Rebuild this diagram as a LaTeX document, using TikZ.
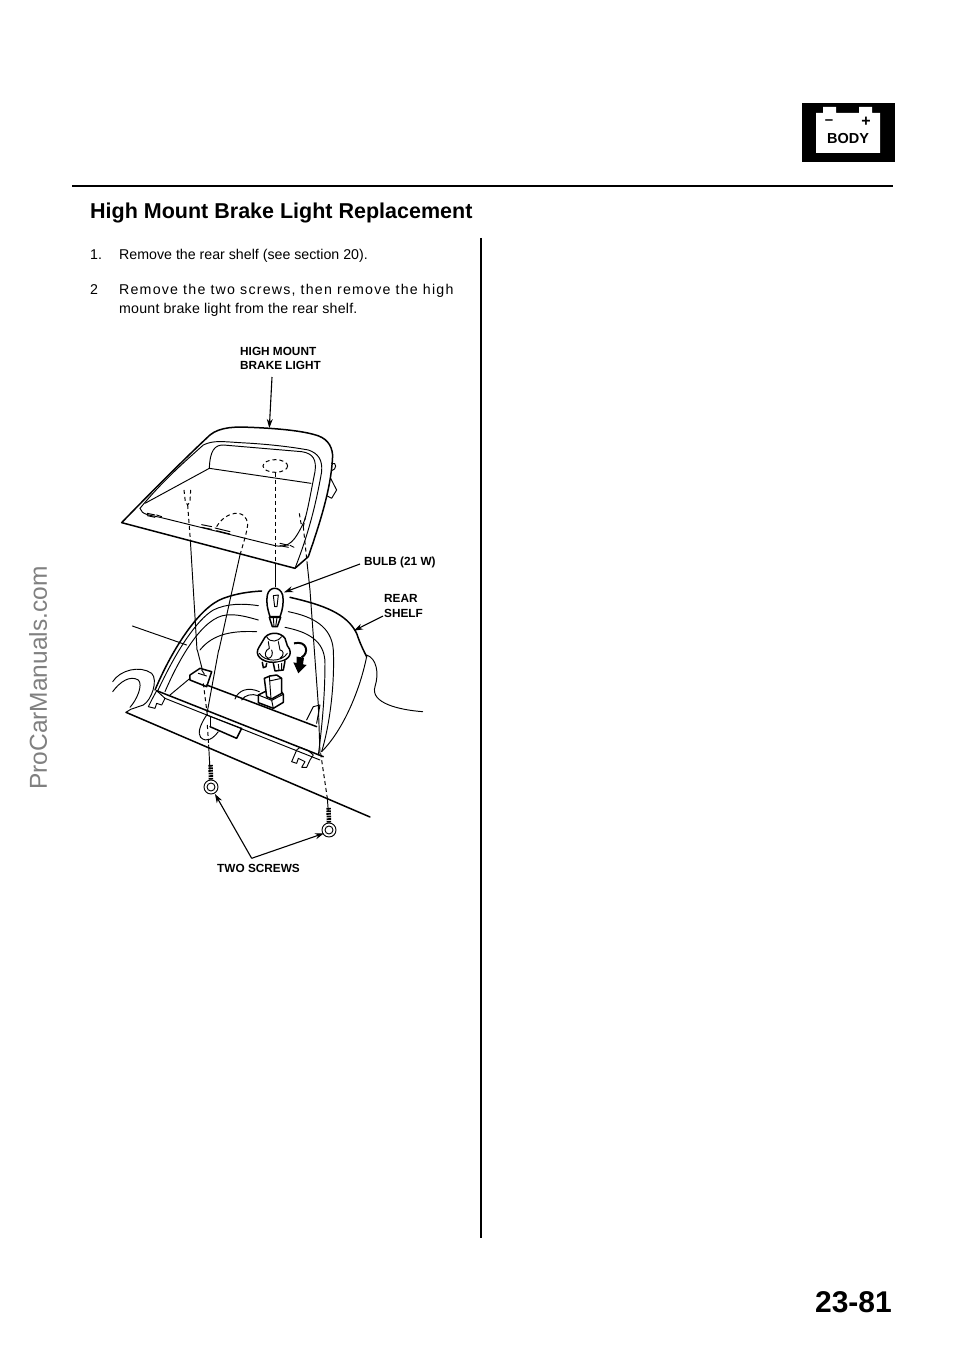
\documentclass[tikz,border=0pt]{standalone}
\usepackage{fontspec}
\setmainfont{Liberation Sans}
\usetikzlibrary{arrows.meta}
\tikzset{
 lbl/.style={font=\fontsize{11.8}{14.6}\selectfont\bfseries,inner sep=0pt,align=left,anchor=west},
 body/.style={font=\fontsize{14.2}{20}\selectfont,inner sep=0pt,anchor=base west},
 thin line/.style={line width=.95pt,line join=round,line cap=round},
 thick line/.style={line width=1.5pt,line join=round,line cap=round},
 dash line/.style={line width=1pt,dash pattern=on 4pt off 3pt},
 leader/.style={line width=1.1pt,-{Stealth[length=9pt,width=6pt]}},
}
\begin{document}
\begin{tikzpicture}[x=1pt,y=-1pt]
\useasboundingbox (0,0) rectangle (960,1356);
\fill[white] (0,0) rectangle (960,1356);
% rules
\draw[line width=1.5pt] (72,186) -- (893,186);
\draw[line width=1.1pt] (481,238) -- (481,1238);
% battery icon
\fill[black] (802,103) rectangle (895,162);
\fill[white] (816,113) rectangle (880,153) (823,107) rectangle (836,114) (859,107) rectangle (872,114);
\node[font=\fontsize{15}{15}\selectfont\bfseries,inner sep=0pt] (minus) at (829,122) {–};
\node[font=\fontsize{16}{16}\selectfont\bfseries,inner sep=0pt] (plus) at (866,122) {+};
\node[font=\fontsize{14.5}{15}\selectfont\bfseries,inner sep=0pt] (bodytxt) at (848,139) {BODY};
% texts
\node[font=\fontsize{21.5}{24}\selectfont\bfseries,inner sep=0pt,anchor=base west] (title) at (90,219) {High Mount Brake Light Replacement};
\node[body] (n1) at (90,259) {1.};
\node[body] (s1) at (119,259) {Remove the rear shelf (see section 20).};
\node[body] (n2) at (90,294) {2};
\node[body,font=\fontsize{14.2}{20}\selectfont\addfontfeature{LetterSpace=8.5}] (s2) at (119,294) {Remove the two screws, then remove the high};
\node[body,font=\fontsize{14.2}{20}\selectfont\addfontfeature{LetterSpace=1.4}] (s3) at (119,313) {mount brake light from the rear shelf.};
\node[font=\fontsize{30}{30}\selectfont\bfseries,inner sep=0pt,anchor=east] (page) at (892,1302) {23-81};
\node[rotate=90,font=\fontsize{24.5}{27}\selectfont,text=black!50,inner sep=0pt] (mark) at (38,678) {ProCarManuals.com};
\node[lbl] (hm) at (240,358.5) {HIGH MOUNT\\BRAKE LIGHT};
\node[lbl] (bulb) at (364,562) {BULB (21 W)};
\node[lbl] (rear) at (384,606) {REAR\\SHELF};
\node[lbl] (two) at (217,868) {TWO SCREWS};

% upper drawing
\begin{scope}[shift={(100,400)},x=0.3333pt,y=-0.3333pt]
\coordinate (lightTop) at (508,84);
\draw[thick line] (65,368) .. controls (150,280) and (260,170) .. (330,105) .. controls (360,80) and (410,80) .. (450,82) .. controls (530,85) and (600,92) .. (640,103) .. controls (680,112) and (695,135) .. (698,165) .. controls (695,250) and (670,340) .. (625,470) -- (585,505) -- cycle;
\draw[thin line] (120,325) .. controls (190,240) and (260,180) .. (310,135) .. controls (340,120) and (370,125) .. (420,128) .. controls (500,132) and (570,140) .. (625,150) .. controls (655,160) and (668,180) .. (665,215) .. controls (650,300) and (630,390) .. (585,505);
\draw[thin line] (120,325) .. controls (125,345) and (150,345) .. (180,352) -- (525,437) .. controls (570,445) and (585,420) .. (610,370) .. controls (620,350) and (630,290) .. (645,215) .. controls (650,180) and (640,160) .. (605,155) -- (370,135) .. controls (345,135) and (330,150) .. (328,205) -- (633,250);
\draw[thin line] (328,205) -- (135,310);
\draw[thin line] (695,190) .. controls (712,185) and (710,210) .. (695,212) (692,235) -- (710,270) -- (695,295) -- (682,288);
% clips
\draw[thin line] (142,340) -- (165,345) (142,347) -- (165,352) (170,345) -- (185,350);
\draw[thin line] (305,374) -- (335,380) (305,382) -- (335,388) (345,384) -- (390,395) (350,392) -- (390,402);
\draw[thin line] (540,430) -- (565,436) (540,437) -- (565,442) (570,436) -- (582,442);
% dashed holes
\draw[dash line] (526,198) ellipse [x radius=37,y radius=19];
\draw[dash line] (252,270) -- (256,305) -- (263,315) -- (270,305) -- (272,270);
\draw[dash line] (350,380) .. controls (375,335) and (440,320) .. (443,375) .. controls (440,400) and (430,430) .. (420,465);
\draw[dash line] (598,340) -- (603,370) -- (610,380) -- (618,345);
\draw[dash line] (263,315) -- (271,420);
\draw[dash line] (526,218) -- (526,500);
\draw[dash line] (610,380) -- (622,495);
\draw[thin line] (271,420) -- (291,750);
\draw[thin line] (526,500) -- (526,560);
\draw[thin line] (420,465) -- (357,750);
\draw[thin line] (622,495) -- (630,570);
\end{scope}

% lower drawing: shelf
\begin{scope}[shift={(100,590)},x=0.3333pt,y=-0.3333pt]
\coordinate (shelfPt) at (762,122);
\coordinate (scrA) at (345,612);
\coordinate (scrB) at (672,730);
\coordinate (fork) at (455,805);
\draw[thick line] (165,300) .. controls (220,170) and (300,50) .. (370,25) .. controls (410,10) and (450,5) .. (485,3);
\draw[thick line] (570,22) .. controls (670,45) and (740,70) .. (770,130) .. controls (780,160) and (790,180) .. (800,200);
\draw[thin line] (172,305) .. controls (230,180) and (290,90) .. (340,60) .. controls (380,40) and (430,40) .. (475,47);
\draw[thin line] (195,305) .. controls (240,200) and (310,80) .. (380,75) .. controls (410,72) and (440,80) .. (475,90);
\draw[thin line] (300,180) .. controls (340,130) and (400,122) .. (470,125);
\draw[thin line] (565,65) .. controls (640,80) and (695,110) .. (700,180) .. controls (705,300) and (685,420) .. (665,485);
\draw[thin line] (555,112) .. controls (620,125) and (675,150) .. (675,220) .. controls (675,320) and (665,420) .. (655,495);
\draw[thin line] (800,200) .. controls (780,300) and (730,420) .. (665,485);
\draw[thin line] (800,195) .. controls (830,205) and (838,250) .. (825,290) .. controls (810,340) and (900,360) .. (968,365);
\draw[thin line] (97,108) -- (260,165);
\draw[thin line] (620,390) -- (640,350) -- (660,345) -- (650,400);
\draw[thin line] (630,0) -- (655,345);
\draw[thin line] (655,345) -- (660,490);
\end{scope}

% lower left detail
\begin{scope}[shift={(110,650)},x=0.3333pt,y=-0.3333pt]
\draw[thin line] (8,95) .. controls (30,60) and (90,45) .. (125,70) .. controls (145,90) and (125,150) .. (100,165) -- (62,178) -- (48,187);
\draw[thin line] (8,125) .. controls (30,95) and (60,75) .. (85,90) .. controls (100,105) and (80,150) .. (60,172);
\draw[thick line] (48,187) -- (780,501);
\draw[thick line] (140,122) -- (640,320);
\draw[thin line] (165,145) -- (630,330);
\draw[thin line] (180,135) -- (240,85);
\draw[thick line] (240,75) -- (270,55) -- (305,65) -- (290,110) -- (240,90) -- cycle;
\draw[thick line] (290,105) -- (620,230);
\draw[thin line] (265,70) -- (290,78) (275,60) -- (283,72);
\draw[thin line] (140,122) -- (165,145) -- (155,165) -- (140,160) -- (135,175) -- (115,170) -- (125,150) -- cycle;
\draw[thick line] (300,230) -- (380,265) -- (395,235);
\draw[thin line] (290,195) -- (395,235);
\draw[thin line] (290,195) .. controls (270,225) and (262,250) .. (272,262) .. controls (290,280) and (310,265) .. (325,245);
\draw[thin line] (300,200) -- (300,230);
\draw[dash line] (280,100) -- (292,195);
\draw[dash line] (292,225) -- (296,285);
\draw[thin line] (296,285) -- (300,360);
\draw[thin line] (262,0) -- (276,55);
\draw[thin line] (326,0) -- (292,185);
\end{scope}

% lower right detail
\begin{scope}[shift={(280,690)},x=0.3333pt,y=-0.3333pt]
\draw[thin line] (50,180) -- (35,215) -- (50,220) -- (55,205) -- (75,215) -- (65,232) -- (80,232) -- (90,210) -- (100,195) -- (85,182) -- (60,172) -- cycle;
\draw[dash line] (122,190) -- (142,325);
\draw[thin line] (142,325) -- (145,365);
\end{scope}

% bulb, socket, connector
\begin{scope}[shift={(230,575)},x=0.3333pt,y=-0.3333pt]
\coordinate (bulbTip) at (162,52);
\draw[thick line,fill=white] (120,125) .. controls (112,100) and (108,80) .. (112,60) .. controls (118,33) and (150,33) .. (158,60) .. controls (162,80) and (158,105) .. (150,125) -- cycle;
\draw[thin line] (130,62) -- (145,60) -- (141,95) -- (134,95) -- cycle;
\draw[thick line,fill=white] (118,127) -- (152,127) -- (142,155) -- (127,155) -- cycle;
\draw[thin line] (130,128) -- (132,155) (141,128) -- (137,155);
% socket
\draw[thick line,fill=white] (88,215) .. controls (70,240) and (95,262) .. (130,262) .. controls (170,262) and (195,240) .. (172,212) -- (165,190) .. controls (150,168) and (110,170) .. (100,195) -- cycle;
\draw[thin line] (110,185) .. controls (120,205) and (145,200) .. (155,185);
\draw[thin line] (115,200) -- (118,220) .. controls (105,225) and (100,245) .. (115,250) .. controls (125,250) and (130,235) .. (125,225) (145,200) -- (150,225) .. controls (160,225) and (165,240) .. (150,250) (88,235) .. controls (105,262) and (155,262) .. (172,235);
\draw[thick line,fill=white] (97,262) -- (100,278) -- (108,275) -- (110,265);
\draw[thick line,fill=white] (130,265) -- (135,288) -- (160,285) -- (165,258);
\draw[thin line] (145,268) -- (147,286) (155,265) -- (155,285);
% turn arrow
\draw[line width=2pt] (192,205) .. controls (232,195) and (238,235) .. (215,247);
\fill[black] (200,245) -- (222,248) -- (219,268) -- (230,270) -- (205,295) -- (190,262) -- (200,264) -- cycle;
% connector
\draw[thick line,fill=white] (85,360) -- (105,350) -- (150,345) -- (160,358) -- (160,382) -- (130,400) -- (85,383) -- cycle;
\draw[thin line] (85,360) -- (125,376) -- (160,358) (125,376) -- (130,400);
\draw[thick line,fill=white] (103,310) -- (120,303) -- (140,300) -- (155,310) -- (155,355) -- (125,372) -- (110,365) -- cycle;
\draw[thin line] (118,303) -- (123,372) (118,318) -- (155,310);
\draw[thin line] (15,372) .. controls (25,345) and (55,335) .. (88,350) (35,375) .. controls (45,360) and (65,355) .. (85,362);
\end{scope}

% screws
\node[draw,thin line,circle,fill=white,minimum size=14pt,inner sep=0pt] (screwA) at (211,787) {};
\node[draw,thin line,circle,fill=white,minimum size=8pt,inner sep=0pt] (screwAin) at (211,787) {};
\node[draw,thin line,circle,fill=white,minimum size=14pt,inner sep=0pt] (screwB) at (329,830) {};
\node[draw,thin line,circle,fill=white,minimum size=8pt,inner sep=0pt] (screwBin) at (329,830) {};
\draw[line width=4.5pt,dash pattern=on 1.7pt off .9pt] (screwA.north) -- ++(-.5,-15);
\draw[line width=4.5pt,dash pattern=on 1.7pt off .9pt] (screwB.north) -- ++(-.5,-15);
% leaders
\draw[leader] (272,377) -- (lightTop);
\draw[leader] (360,564) -- (bulbTip);
\draw[leader] (383,616) -- (shelfPt);
\draw[leader] (fork) -- (scrA);
\draw[leader] (fork) -- (scrB);
\end{tikzpicture}
\end{document}
